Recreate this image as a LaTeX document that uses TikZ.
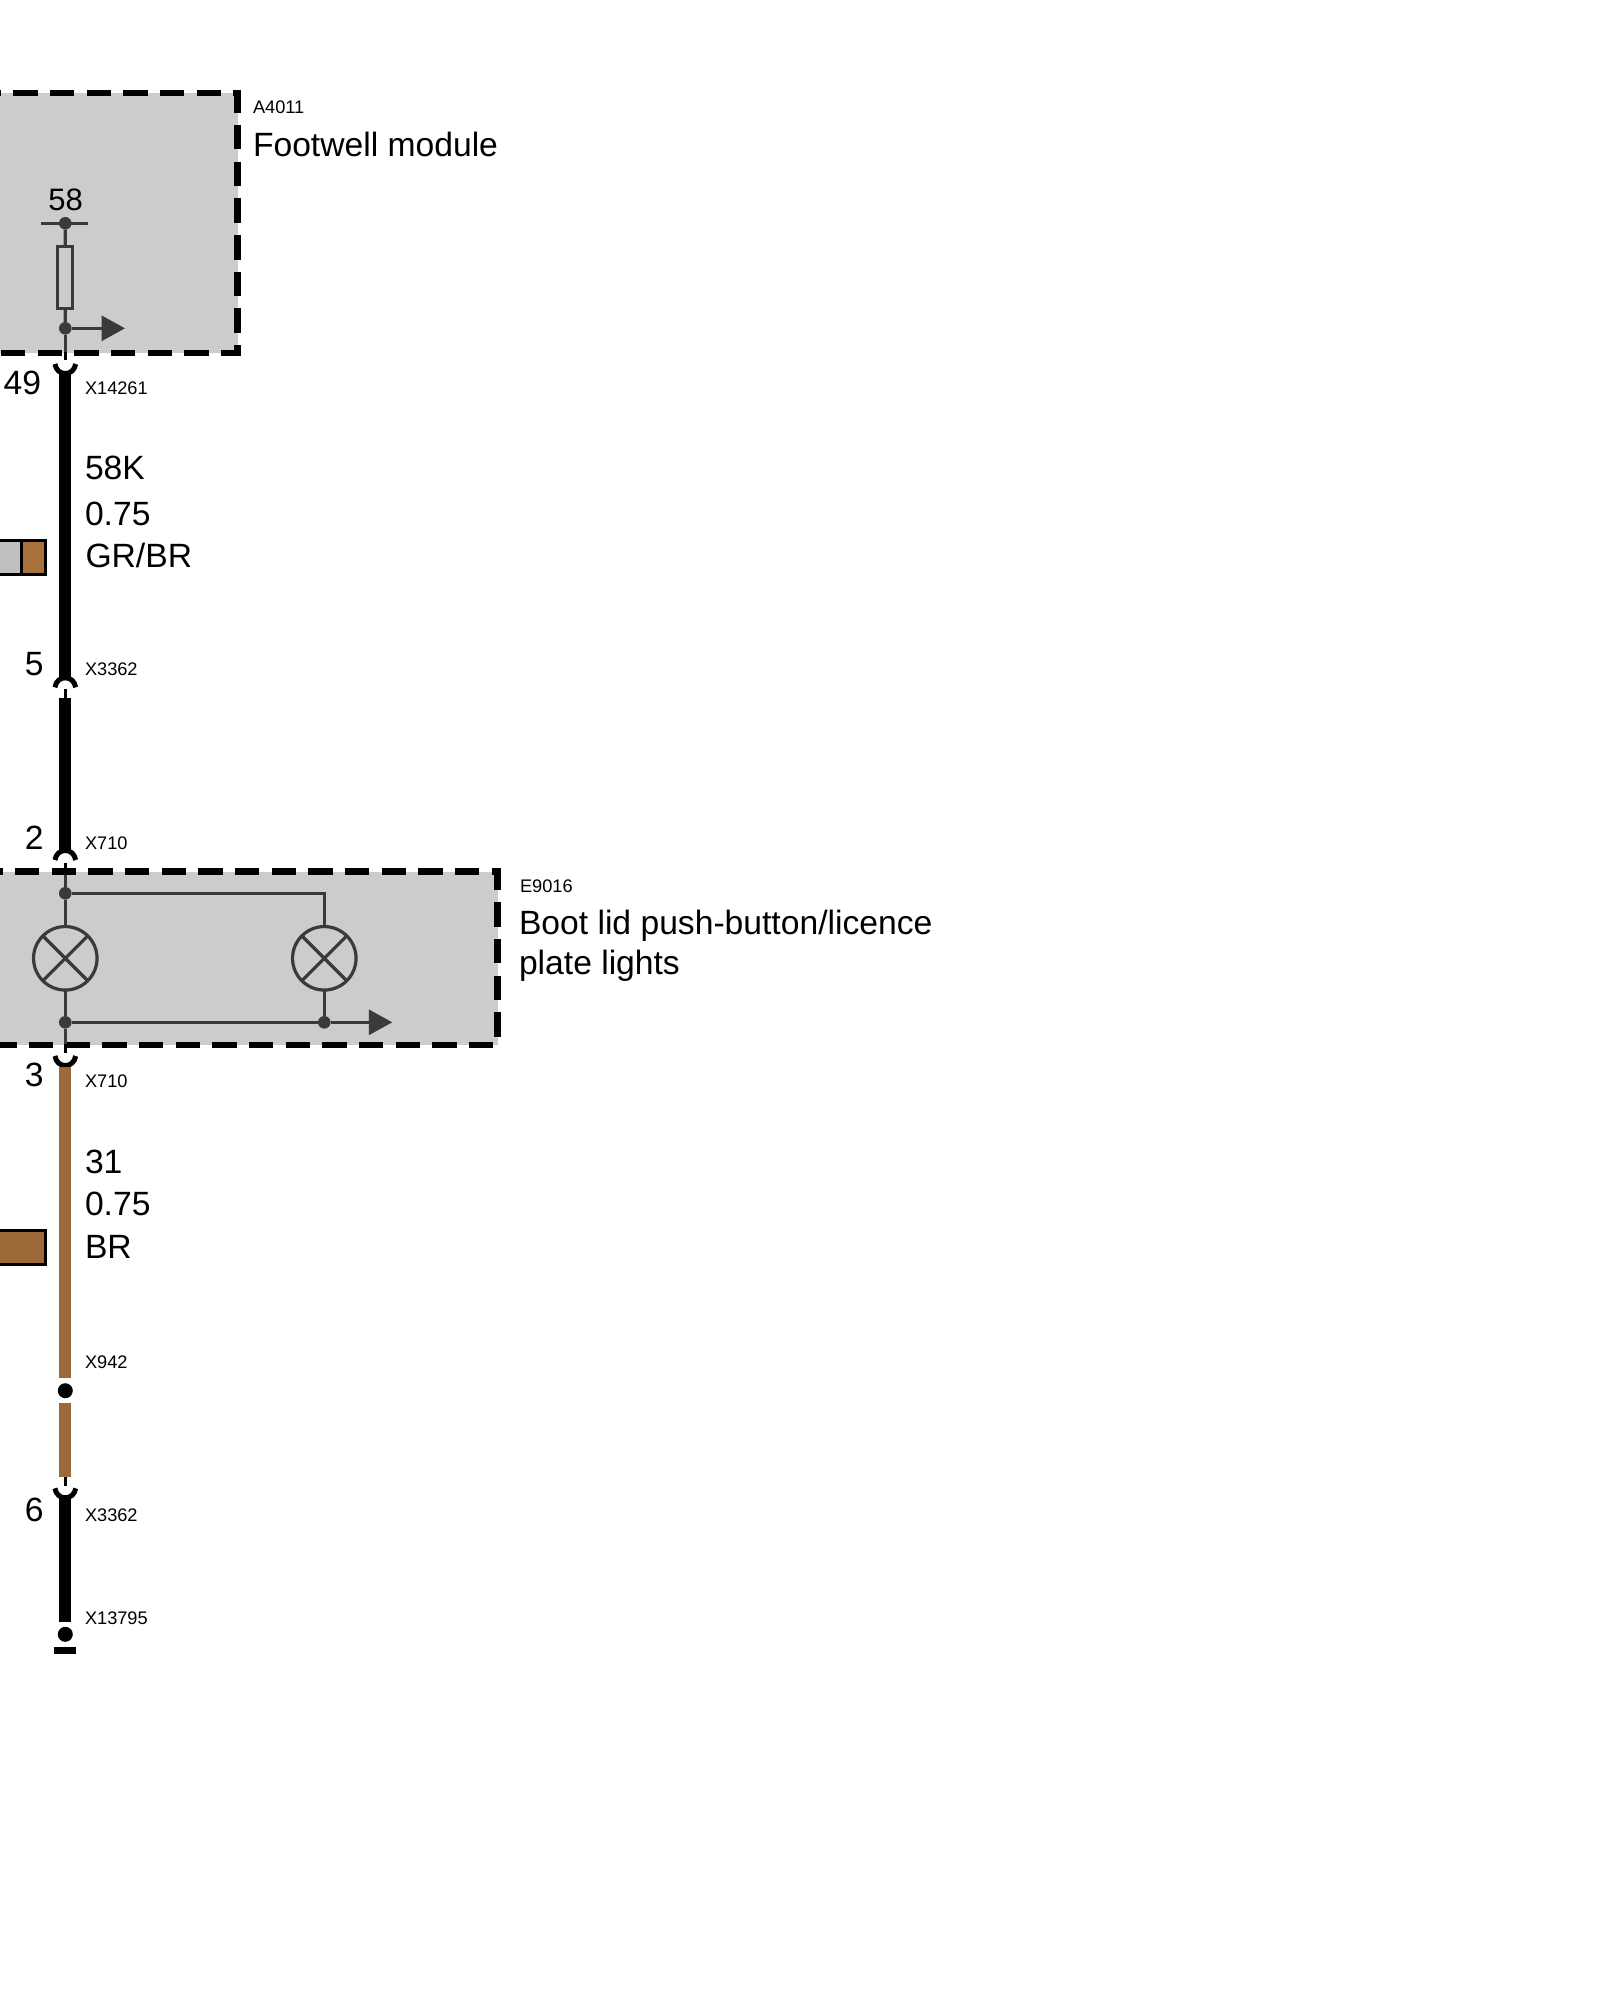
\documentclass[tikz,border=0pt]{standalone}
\usepackage{fontspec}
\setmainfont{Liberation Sans}
\usetikzlibrary{arrows.meta}
\definecolor{boxgray}{HTML}{CCCCCC}
\definecolor{dark}{HTML}{3A3A3A}
\definecolor{brownw}{HTML}{9C6A38}
\definecolor{swatchbrown}{HTML}{A8703A}
\definecolor{swatchgray}{HTML}{C0C0C0}
\tikzset{
  x=1pt,y=-1pt,
  lbl/.style={inner sep=0pt,outer sep=0pt,anchor=base west,text=black},
  big/.style={lbl,font=\fontsize{33.65}{34}\selectfont},
  small/.style={lbl,font=\fontsize{18.2}{18}\selectfont},
  pinnum/.style={inner sep=0pt,outer sep=0pt,anchor=base east,text=black,font=\fontsize{33.65}{34}\selectfont},
  modulefill/.style={fill=boxgray,draw=none},
  moduledash/.style={draw=black,line width=6.2pt,dash pattern=on 24.4pt off 12.27pt,miter limit=10},
  thin wire/.style={draw=dark,line width=3.2pt},
  stub/.style={draw=black,line width=3.6pt},
  blackwire/.style={draw=black,line width=12pt},
  brownwire/.style={draw=brownw,line width=12pt},
  cup/.style={draw=black,line width=5pt},
  junc/.style={circle,fill=dark,inner sep=0pt,minimum size=12.6pt,outer sep=0pt},
  term/.style={circle,fill=black,inner sep=0pt,minimum size=15pt,outer sep=0pt},
  lamp/.style={circle,draw=dark,line width=3.2pt,inner sep=0pt,minimum size=63.5pt,outer sep=0pt},
  fusebox/.style={draw=dark,line width=3.2pt,inner sep=0pt,outer sep=0pt,minimum width=14.6pt,minimum height=61.7pt},
  flow/.style={thin wire,-{Triangle[length=23.5pt,width=25pt]}},
  swatch/.style={draw=black,line width=3pt},
}
\newcommand{\cupdown}[1]{% U shape opening upward
  \draw[cup] (54.9,#1) .. controls (56,{#1+6}) and (60,{#1+9.5}) .. (65.3,{#1+9.5})
     .. controls (70.6,{#1+9.5}) and (74.6,{#1+6}) .. (75.7,#1);}
\newcommand{\cupup}[1]{% n shape opening downward
  \draw[cup] (54.9,#1) .. controls (56,{#1-6}) and (60,{#1-9.5}) .. (65.3,{#1-9.5})
     .. controls (70.6,{#1-9.5}) and (74.6,{#1-6}) .. (75.7,#1);}
\begin{document}
\begin{tikzpicture}
\useasboundingbox (0,0) rectangle (1600,2000);
\clip (0,0) rectangle (1600,2000);
\fill[white] (0,0) rectangle (1600,2000);
% module boxes
\path[modulefill] (-30,92.6) rectangle (237.5,353);
\draw[moduledash] (-23.37,92.6) -- (237.5,92.6) -- (237.5,353) -- (-30,353);
\path[modulefill] (-30,871.5) rectangle (497.5,1045);
\draw[moduledash] (-21.67,871.5) -- (497.5,871.5) -- (497.5,1045) -- (-30,1045);
% coordinates
\coordinate (aTop) at (65.3,223.3);
\coordinate (aBarL) at (41.3,223.3);
\coordinate (aBarR) at (88.3,223.3);
\coordinate (aOut) at (65.3,352);
\coordinate (aStubA) at (65.3,352);
\coordinate (aStubB) at (65.3,360);
\coordinate (w1a) at (65.3,374);
\coordinate (w1b) at (65.3,678);
\coordinate (s1a) at (65.3,689.3);
\coordinate (s1b) at (65.3,698.3);
\coordinate (w2a) at (65.3,698.3);
\coordinate (w2b) at (65.3,850);
\coordinate (s2a) at (65.3,862.7);
\coordinate (s2b) at (65.3,875);
\coordinate (eBot) at (65.3,1044);
\coordinate (s3a) at (65.3,1044);
\coordinate (s3b) at (65.3,1052.7);
\coordinate (w3a) at (65.3,1067);
\coordinate (w3b) at (65.3,1378.3);
\coordinate (w4a) at (65.3,1403.3);
\coordinate (w4b) at (65.3,1477.3);
\coordinate (s4b) at (65.3,1486);
\coordinate (w5a) at (65.3,1498);
\coordinate (w5b) at (65.3,1621.7);
\coordinate (aHead) at (125,328.3);
\coordinate (eHead) at (392.3,1022.3);
\coordinate (eCorner) at (324.3,893.3);
% Footwell module internals
\draw[thin wire,line width=3pt] (aBarL) -- (aBarR);
\node[junc] (ja0) at (aTop) {};
\node[fusebox] (fuse) at (65,277.5) {};
\node[junc] (ja1) at (65.3,328.3) {};
\draw[thin wire] (ja0) -- (fuse);
\draw[thin wire] (fuse) -- (ja1);
\draw[thin wire] (ja1) -- (aOut);
\draw[flow] (ja1) -- (aHead);
\draw[stub] (aStubA) -- (aStubB);
% Boot lid internals
\node[junc] (je0) at (65.3,893.3) {};
\node[junc] (je1) at (65.3,1022.3) {};
\node[junc] (je2) at (324.3,1022.3) {};
\node[lamp] (l1) at (65.3,958.3) {};
\node[lamp] (l2) at (324.3,958.3) {};
\foreach \l in {l1,l2}{
  \draw[thin wire] (\l.45) -- (\l.225);
  \draw[thin wire] (\l.135) -- (\l.315);
}
\draw[thin wire] (s2b) -- (je0);
\draw[thin wire] (je0) -- (l1.north);
\draw[thin wire] (l1.south) -- (je1);
\draw[thin wire] (je1) -- (eBot);
\draw[thin wire] (je0) -- (eCorner) -- (l2.north);
\draw[thin wire] (l2.south) -- (je2);
\draw[thin wire] (je1) -- (je2);
\draw[flow] (je2) -- (eHead);
\draw[stub] (s2a) -- (s2b);
\draw[stub] (s3a) -- (s3b);
% wires
\draw[blackwire] (w1a) -- (w1b);
\cupdown{364}
\cupup{687.3}
\draw[stub] (s1a) -- (s1b);
\draw[blackwire] (w2a) -- (w2b);
\cupup{860}
\cupdown{1056}
\draw[brownwire] (w3a) -- (w3b);
\node[term] (t1) at (65.3,1390.7) {};
\draw[brownwire] (w4a) -- (w4b);
\draw[stub] (w4b) -- (s4b);
\cupdown{1488.3}
\draw[blackwire] (w5a) -- (w5b);
\node[term] (t2) at (65.3,1634.3) {};
\node[fill=black,inner sep=0pt,outer sep=0pt,minimum width=21.4pt,minimum height=6.4pt] (gnd) at (65,1650.5) {};
% colour swatches
\fill[swatchgray] (-10,540.5) rectangle (21.7,574.2);
\fill[swatchbrown] (21.7,540.5) rectangle (45.2,574.2);
\draw[swatch] (-10,540.5) -- (45.2,540.5) -- (45.2,574.2) -- (-10,574.2);
\draw[swatch] (21.7,540.5) -- (21.7,574.2);
\fill[brownw] (-10,1230.5) rectangle (45.2,1264.2);
\draw[swatch] (-10,1230.5) -- (45.2,1230.5) -- (45.2,1264.2) -- (-10,1264.2);
% text
\node[small] (tA) at (253,113.7) {A4011};
\node[big] (tF) at (253,156.3) {Footwell module};
\node[inner sep=0pt,anchor=base,font=\fontsize{31}{31}\selectfont] (t58) at (65.7,210.8) {58};
\node[pinnum] (p49) at (41,394.5) {49};
\node[small] (x1) at (85,394.5) {X14261};
\node[big] (tw1) at (85,479.3) {58K};
\node[big] (tw2) at (85,525.3) {0.75};
\node[big] (tw3) at (85.5,567.3) {GR/BR};
\node[pinnum] (p5) at (43.5,675.3) {5};
\node[small] (x2) at (85,675.7) {X3362};
\node[pinnum] (p2) at (43.5,849.5) {2};
\node[small] (x3) at (85,849.5) {X710};
\node[small] (tE) at (520,892.5) {E9016};
\node[big] (tB) at (519,934.3) {Boot lid push-button/licence};
\node[big] (tP) at (519,974.2) {plate lights};
\node[pinnum] (p3) at (43.5,1086.7) {3};
\node[small] (x4) at (85,1087.5) {X710};
\node[big] (tw4) at (85,1173.7) {31};
\node[big] (tw5) at (85,1215.5) {0.75};
\node[big] (tw6) at (85,1258.3) {BR};
\node[small] (x5) at (85,1368.7) {X942};
\node[pinnum] (p6) at (43.5,1521) {6};
\node[small] (x6) at (85,1521) {X3362};
\node[small] (x7) at (85,1624.5) {X13795};
\end{tikzpicture}
\end{document}
